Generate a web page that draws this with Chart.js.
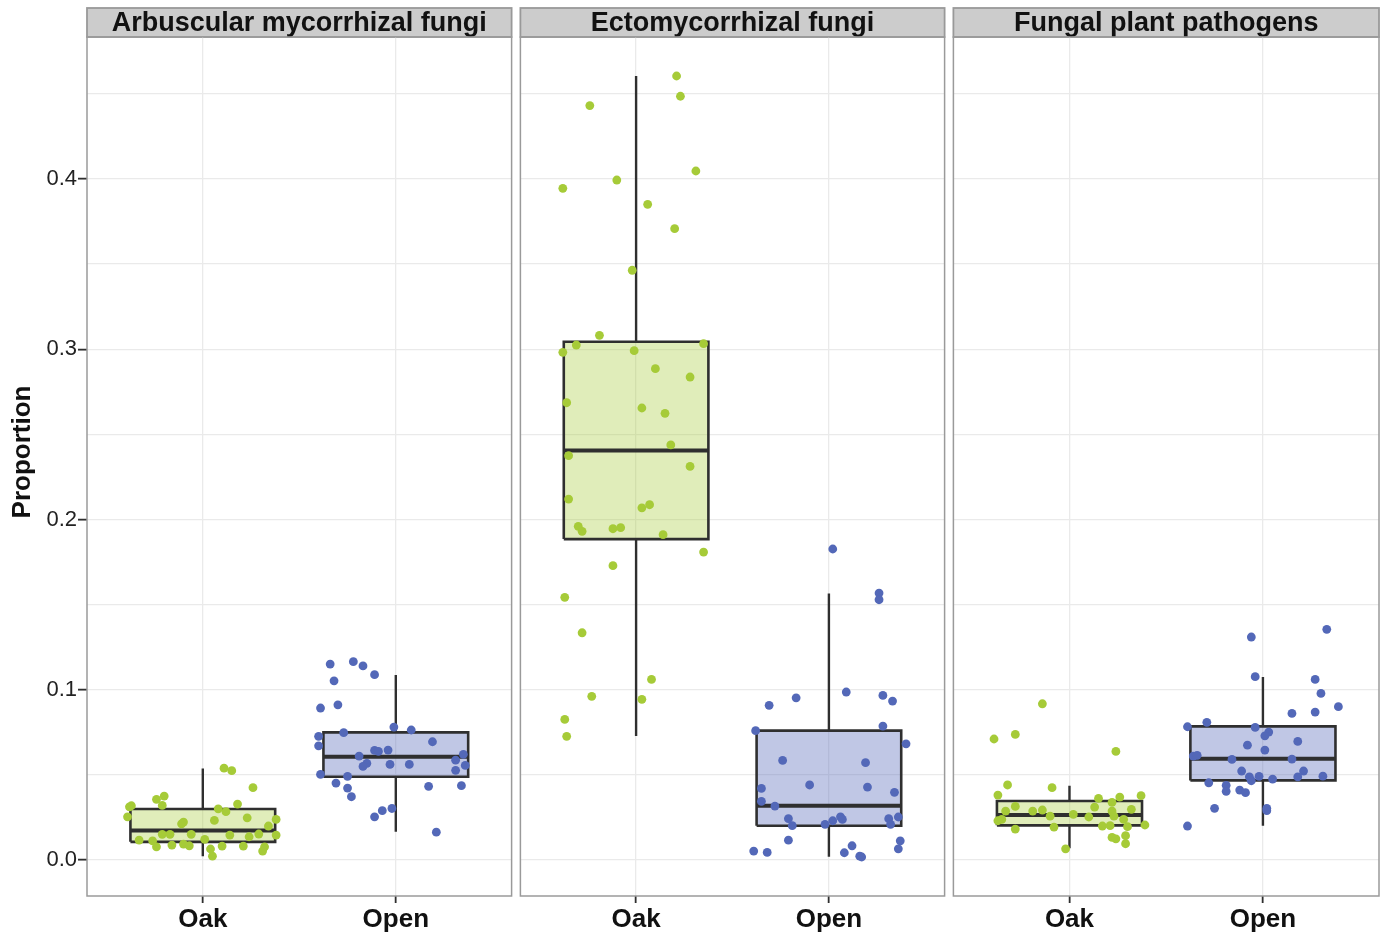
<!DOCTYPE html>
<html>
<head>
<meta charset="utf-8">
<script src="https://cdn.jsdelivr.net/npm/chart.js@4"></script>
<style>
  html, body { margin: 0; padding: 0; background: #fff; }
  .panel { position: absolute; top: 0; height: 934px; }
</style>
</head>
<body>
<div class="panel" style="left:0;width:516px"><canvas id="p1"></canvas></div>
<div class="panel" style="left:516px;width:433px"><canvas id="p2"></canvas></div>
<div class="panel" style="left:949px;width:436px"><canvas id="p3"></canvas></div>
<script>
// facets and groups
const facets = ['Arbuscular mycorrhizal fungi', 'Ectomycorrhizal fungi', 'Fungal plant pathogens'];
const categories = ['Oak', 'Open'];
const yTitle = 'Proportion';
const yMajorTicks = [0, 0.1, 0.2, 0.3, 0.4];
const yTickLabels = ['0.0', '0.1', '0.2', '0.3', '0.4'];
const yGridTicks = [0, 0.05, 0.1, 0.15, 0.2, 0.25, 0.3, 0.35, 0.4, 0.45];

// box stats: [lower whisker, q1, median, q3, upper whisker]
const amfOakBox = [0.0023, 0.0107, 0.0174, 0.0300, 0.0538];
const amfOpenBox = [0.0166, 0.0489, 0.0607, 0.0750, 0.1087];
const ecmOakBox = [0.0728, 0.1885, 0.2406, 0.3044, 0.4605];
const ecmOpenBox = [0.0020, 0.0202, 0.0319, 0.0760, 0.1566];
const fppOakBox = [0.0069, 0.0204, 0.0264, 0.0347, 0.0437];
const fppOpenBox = [0.0202, 0.0468, 0.0595, 0.0785, 0.1075];

// jittered samples: values and horizontal jitter (category units)
const amfOakValues = [0.054,0.0525,0.0425,0.0357,0.0376,0.0321,0.0319,0.0254,0.0313,0.0329,0.0301,0.0284,0.0248,0.0233,0.0223,0.0213,0.0239,0.0200,0.0151,0.0151,0.0151,0.0147,0.0153,0.0137,0.0147,0.0117,0.0113,0.0122,0.0078,0.0088,0.0094,0.0084,0.0082,0.0082,0.0065,0.0023,0.0078,0.0053];
const amfOakJitter = [0.11,0.15,0.26,-0.24,-0.20,-0.21,-0.37,-0.39,-0.38,0.18,0.08,0.12,0.23,0.06,-0.10,-0.11,0.38,0.34,-0.21,-0.17,-0.06,0.14,0.29,0.24,0.38,-0.33,-0.26,0.01,-0.24,-0.16,-0.10,-0.07,0.10,0.21,0.04,0.05,0.32,0.31];

const amfOpenValues = [0.1151,0.1165,0.1140,0.1089,0.1053,0.0912,0.0893,0.0781,0.0764,0.0748,0.0727,0.0671,0.0695,0.0644,0.0638,0.0646,0.0611,0.0568,0.0550,0.0562,0.0562,0.0621,0.0587,0.0556,0.0527,0.0503,0.0492,0.0452,0.0423,0.0372,0.0433,0.0437,0.0254,0.0290,0.0303,0.0164];
const amfOpenJitter = [-0.34,-0.22,-0.17,-0.11,-0.32,-0.30,-0.39,-0.01,0.08,-0.27,-0.40,-0.40,0.19,-0.11,-0.09,-0.04,-0.19,-0.15,-0.17,-0.03,0.07,0.35,0.31,0.36,0.31,-0.39,-0.25,-0.31,-0.25,-0.23,0.17,0.34,-0.11,-0.07,-0.02,0.21];

const ecmOakValues = [0.4605,0.4486,0.4431,0.4047,0.3994,0.3945,0.3851,0.3708,0.3464,0.3082,0.3025,0.2982,0.2992,0.3033,0.2886,0.2837,0.2686,0.2655,0.2624,0.2438,0.2375,0.2312,0.2120,0.2069,0.2087,0.1960,0.1931,0.1946,0.1952,0.1911,0.1809,0.1729,0.1543,0.1335,0.1061,0.0962,0.0944,0.0826,0.0727];
const ecmOakJitter = [0.21,0.23,-0.24,0.31,-0.10,-0.38,0.06,0.20,-0.02,-0.19,-0.31,-0.38,-0.01,0.35,0.10,0.28,-0.36,0.03,0.15,0.18,-0.35,0.28,-0.35,0.03,0.07,-0.30,-0.28,-0.12,-0.08,0.14,0.35,-0.12,-0.37,-0.28,0.08,-0.23,0.03,-0.37,-0.36];

const ecmOpenValues = [0.1568,0.1529,0.1827,0.0987,0.0953,0.0909,0.0967,0.0934,0.0787,0.0760,0.0683,0.0585,0.0572,0.0441,0.0429,0.0421,0.0398,0.0345,0.0317,0.0243,0.0202,0.0210,0.0231,0.0254,0.0239,0.0243,0.0210,0.0253,0.0117,0.0113,0.0066,0.0053,0.0045,0.0043,0.0084,0.0023,0.0018];
const ecmOpenJitter = [0.26,0.26,0.02,0.09,-0.17,-0.31,0.28,0.33,0.28,-0.38,0.40,-0.24,0.19,-0.10,0.20,-0.35,0.34,-0.35,-0.28,-0.21,-0.19,-0.02,0.02,0.06,0.07,0.31,0.32,0.36,-0.21,0.37,0.36,-0.39,-0.32,0.08,0.12,0.16,0.17];

const fppOakValues = [0.0918,0.0711,0.0738,0.0638,0.0441,0.0425,0.0382,0.0362,0.0370,0.0378,0.0339,0.0315,0.0311,0.0298,0.0288,0.0294,0.0288,0.0288,0.0268,0.0258,0.0253,0.0239,0.0258,0.0239,0.0231,0.0200,0.0202,0.0196,0.0206,0.0182,0.0194,0.0133,0.0125,0.0143,0.0096,0.0066];
const fppOakJitter = [-0.14,-0.39,-0.28,0.24,-0.32,-0.09,-0.37,0.15,0.26,0.37,0.22,-0.28,0.13,0.32,-0.19,-0.14,-0.33,0.22,0.02,-0.10,0.10,-0.35,0.23,0.28,-0.37,0.17,0.21,0.30,0.39,-0.28,-0.08,0.22,0.24,0.29,0.29,-0.02];

const fppOpenValues = [0.1355,0.1310,0.1077,0.1061,0.0979,0.0901,0.0861,0.0869,0.0783,0.0809,0.0779,0.0752,0.0730,0.0697,0.0675,0.0646,0.0611,0.0615,0.0591,0.0593,0.0523,0.0523,0.0489,0.0492,0.0489,0.0493,0.0466,0.0476,0.0454,0.0439,0.0404,0.0411,0.0396,0.0304,0.0304,0.0290,0.0200];
const fppOpenJitter = [0.33,-0.06,-0.04,0.27,0.30,0.39,0.15,0.27,-0.39,-0.29,-0.04,0.03,0.01,0.18,-0.08,0.01,-0.36,-0.34,-0.16,0.15,-0.11,0.21,-0.07,-0.02,0.18,0.31,-0.06,0.05,-0.28,-0.19,-0.19,-0.12,-0.09,-0.25,0.02,0.02,-0.39];

const pointColors = ['#a6cb38', '#5368b8'];
const boxFills = ['rgba(166,203,56,0.35)', 'rgba(83,104,184,0.37)'];
const lineColor = '#2f2f2f';
const gridColor = '#eaeaea';
const boxHalf = 0.375;

Chart.defaults.font.family = "'Liberation Sans', Arial, sans-serif";

// strip header, panel border, y title (ggplot centres it on panel + strip)
const panelDeco = {
  id: 'panelDeco',
  beforeDraw(chart) {
    const { ctx, chartArea: a, titleBlock: t } = chart;
    ctx.save();
    ctx.fillStyle = '#cccccc';
    ctx.fillRect(a.left, t.top, a.right - a.left, t.bottom - t.top);
    ctx.strokeStyle = '#999999';
    ctx.lineWidth = 1.8;
    ctx.strokeRect(a.left, t.top, a.right - a.left, t.bottom - t.top);
    ctx.restore();
  },
  beforeDatasetsDraw(chart) {
    const { ctx, chartArea: a } = chart;
    ctx.save();
    ctx.strokeStyle = '#9a9a9a';
    ctx.lineWidth = 1.5;
    ctx.strokeRect(a.left, a.top, a.right - a.left, a.bottom - a.top);
    ctx.restore();
  },
  afterDraw(chart, args, opts) {
    if (!opts.yTitle) return;
    const { ctx, chartArea: a, titleBlock: t } = chart;
    ctx.save();
    ctx.translate(23, (t.top + a.bottom) / 2);
    ctx.rotate(-Math.PI / 2);
    ctx.fillStyle = '#111';
    ctx.font = "bold 26px 'Liberation Sans', Arial, sans-serif";
    ctx.textAlign = 'center';
    ctx.textBaseline = 'middle';
    ctx.fillText(opts.yTitle, 0, 0);
    ctx.restore();
  }
};

function boxDatasets(stats, pos, k) {
  const [lo, q1, med, q3, hi] = stats;
  const line = { type: 'line', showLine: true, pointRadius: 0, borderColor: lineColor, tension: 0, fill: false };
  return [
    Object.assign({}, line, { order: 3, borderWidth: 2.4, data: [{ x: pos, y: lo }, { x: pos, y: q1 }] }),
    Object.assign({}, line, { order: 3, borderWidth: 2.4, data: [{ x: pos, y: q3 }, { x: pos, y: hi }] }),
    Object.assign({}, line, {
      order: 2, borderWidth: 2.6, fill: 'shape', backgroundColor: boxFills[k],
      data: [
        { x: pos - boxHalf, y: q1 }, { x: pos + boxHalf, y: q1 },
        { x: pos + boxHalf, y: q3 }, { x: pos - boxHalf, y: q3 },
        { x: pos - boxHalf, y: q1 }
      ]
    }),
    Object.assign({}, line, { order: 1, borderWidth: 4, data: [{ x: pos - boxHalf, y: med }, { x: pos + boxHalf, y: med }] })
  ];
}

function pointDataset(values, jitter, pos, k) {
  return {
    type: 'scatter',
    order: 0,
    data: values.map((v, i) => ({ x: pos + jitter[i], y: v })),
    backgroundColor: pointColors[k],
    borderWidth: 0,
    pointRadius: 4.4,
    pointHoverRadius: 4.4
  };
}

function makePanel(id, facetIndex, groups, showY, pad) {
  const datasets = [];
  groups.forEach((g, k) => {
    datasets.push(...boxDatasets(g.box, k + 1, k));
    datasets.push(pointDataset(g.values, g.jitter, k + 1, k));
  });
  const isMajor = v => yMajorTicks.some(m => Math.abs(m - v) < 1e-9);
  return new Chart(document.getElementById(id), {
    type: 'scatter',
    data: { datasets },
    options: {
      responsive: true,
      maintainAspectRatio: false,
      animation: false,
      layout: { padding: { top: 8, bottom: 0, left: pad[0], right: pad[1] } },
      plugins: {
        legend: { display: false },
        tooltip: { enabled: false },
        panelDeco: { yTitle: showY ? yTitle : null },
        title: {
          display: true,
          text: facets[facetIndex],
          fullSize: false,
          color: '#111',
          font: { size: 27, weight: 'bold', lineHeight: 1.0 },
          padding: { top: 2, bottom: 0 }
        }
      },
      scales: {
        x: {
          type: 'linear',
          min: 0.4,
          max: 2.6,
          afterFit(scale) { scale.height = 38; },
          afterBuildTicks(scale) { scale.ticks = categories.map((c, i) => ({ value: i + 1 })); },
          grid: { color: gridColor, lineWidth: 1.3, tickColor: lineColor, tickLength: 7, tickWidth: 1.8 },
          border: { display: false },
          ticks: {
            padding: 1,
            color: '#111',
            font: { size: 26, weight: 'bold' },
            callback: v => categories[Math.round(v) - 1]
          }
        },
        y: {
          type: 'linear',
          min: -0.0211,
          max: 0.4834,
          afterFit(scale) { scale.width = showY ? 87 : 0; },
          afterBuildTicks(scale) { scale.ticks = yGridTicks.map(v => ({ value: v })); },
          grid: {
            color: gridColor,
            lineWidth: 1.3,
            drawTicks: showY,
            tickLength: 9,
            tickWidth: 1.8,
            tickColor: ctx => isMajor(ctx.tick.value) ? lineColor : 'rgba(0,0,0,0)'
          },
          border: { display: false },
          ticks: {
            display: showY,
            padding: 1,
            color: '#222',
            font: { size: 22 },
            callback: v => {
              const i = yMajorTicks.findIndex(m => Math.abs(m - v) < 1e-9);
              return i >= 0 ? yTickLabels[i] : '';
            }
          }
        }
      }
    },
    plugins: [panelDeco]
  });
}

makePanel('p1', 0, [
  { box: amfOakBox, values: amfOakValues, jitter: amfOakJitter },
  { box: amfOpenBox, values: amfOpenValues, jitter: amfOpenJitter }
], true, [0, 3]);
makePanel('p2', 1, [
  { box: ecmOakBox, values: ecmOakValues, jitter: ecmOakJitter },
  { box: ecmOpenBox, values: ecmOpenValues, jitter: ecmOpenJitter }
], false, [4, 4]);
makePanel('p3', 2, [
  { box: fppOakBox, values: fppOakValues, jitter: fppOakJitter },
  { box: fppOpenBox, values: fppOpenValues, jitter: fppOpenJitter }
], false, [4, 6]);
</script>
</body>
</html>
